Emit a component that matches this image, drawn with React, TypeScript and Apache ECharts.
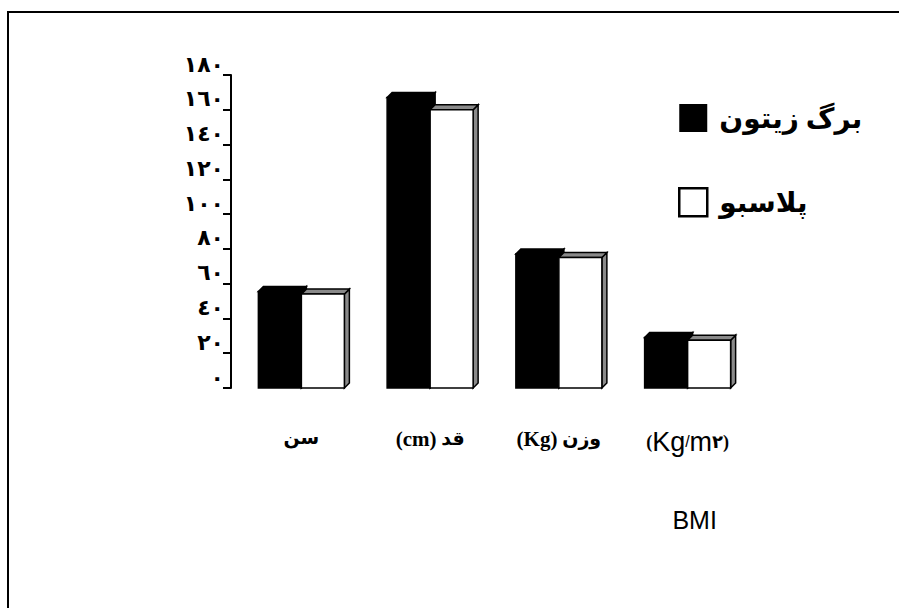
import React, { useEffect, useRef } from "react";
import * as echarts from "echarts";

const categories = ["سن", "قد", "وزن", "BMI"];
const categoryUnits = ["", "(cm)", "(Kg)", ""];
const seriesNames = ["برگ زیتون", "پلاسبو"];
const oliveValues = [55.5, 167, 77, 29];
const placeboValues = [54, 160, 75, 27.5];
const yTickLabels = ["٠", "٢٠", "٤٠", "٦٠", "٨٠", "١٠٠", "١٢٠", "١٤٠", "١٦٠", "١٨٠"];

const SERIF = "'Times New Roman', 'Liberation Serif', 'DejaVu Sans', serif";
const SANS = "Arial, 'Liberation Sans', sans-serif";

function makeRender(side: number, front: string, topC: string, sideC: string) {
  return (params: any, api: any) => {
    const cat = api.value(0);
    const val = api.value(1);
    const base = api.coord([cat, 0]);
    const top = api.coord([cat, val]);
    const band = api.size([1, 0])[0];
    const w = band * 0.334;
    const x = side === 0 ? base[0] - w : base[0];
    const d = 5;
    const yT = top[1];
    const yB = base[1];
    const lw = 1.5;
    return {
      type: "group",
      children: [
        {
          type: "polygon",
          shape: { points: [[x + w, yB], [x + w + d, yB - d], [x + w + d, yT - d], [x + w, yT]] },
          style: { fill: sideC, stroke: "#000", lineWidth: lw },
        },
        {
          type: "polygon",
          shape: { points: [[x, yT], [x + d, yT - d], [x + w + d, yT - d], [x + w, yT]] },
          style: { fill: topC, stroke: "#000", lineWidth: lw },
        },
        {
          type: "rect",
          shape: { x, y: yT, width: w, height: yB - yT },
          style: { fill: front, stroke: "#000", lineWidth: lw },
        },
      ],
    };
  };
}

export default function App() {
  const ref = useRef<HTMLDivElement>(null);
  useEffect(() => {
    if (!ref.current) return;
    const chart = echarts.init(ref.current, null, { renderer: "svg" });
    chart.setOption({
      animation: false,
      backgroundColor: "#fff",
      graphic: [
        {
          type: "rect",
          z: -10,
          shape: { x: 8, y: 12, width: 1000, height: 1000 },
          style: { fill: "none", stroke: "#000", lineWidth: 2 },
          silent: true,
        },
      ],
      grid: { left: 237, top: 75, width: 515, height: 313, containLabel: false },
      legend: {
        orient: "vertical",
        left: 673,
        top: 99,
        itemWidth: 28,
        itemHeight: 28,
        itemGap: 55,
        selectedMode: false,
        textStyle: { fontSize: 28, fontWeight: "bold", fontFamily: SERIF, color: "#000", padding: [0, 0, 0, 7] },
        data: [
          { name: seriesNames[0], icon: "rect", itemStyle: { color: "#000", borderWidth: 0 } },
          { name: seriesNames[1], icon: "rect", itemStyle: { color: "#fff", borderColor: "#000", borderWidth: 2.5 } },
        ],
      },
      xAxis: {
        type: "category",
        data: categories,
        axisLine: { show: false },
        axisTick: { show: false },
        splitLine: { show: false },
        axisLabel: {
          interval: 0,
          margin: 40,
          color: "#000",
          fontSize: 19,
          fontWeight: "bold",
          fontFamily: SERIF,
          formatter: (v: string, i: number) => {
            if (v === "BMI") return "{p|(}{s|Kg}{sl|/}{s|m}{p|٢)}\n{b|BMI}";
            const u = categoryUnits[i];
            return u ? "{u|" + u + "}{a| " + v + "}" : "{a|" + v + "}";
          },
          rich: {
            a: { fontSize: 19, fontWeight: "bold", fontFamily: SERIF, color: "#000" },
            u: { fontSize: 21, fontWeight: "bold", fontFamily: SERIF, color: "#000" },
            p: { fontSize: 18, fontWeight: "bold", fontFamily: SERIF, color: "#000" },
            s: { fontSize: 27, fontWeight: "normal", fontFamily: SANS, color: "#000" },
            sl: { fontSize: 16, fontWeight: "normal", fontFamily: SANS, color: "#000" },
            b: { fontSize: 25, fontWeight: "normal", fontFamily: SANS, color: "#000", padding: [52, 0, 0, 14] },
          },
        },
      },
      yAxis: {
        type: "value",
        min: 0,
        max: 180,
        interval: 20,
        offset: 6,
        axisLine: { show: true, lineStyle: { color: "#000", width: 2 } },
        axisTick: { show: true, length: 8, lineStyle: { color: "#000", width: 2 } },
        splitLine: { show: false },
        axisLabel: {
          margin: 7,
          color: "#000",
          fontSize: 22,
          fontWeight: "bold",
          fontFamily: SERIF,
          verticalAlign: "bottom",
          formatter: (v: number) => yTickLabels[Math.round(v / 20)] ?? "",
        },
      },
      series: [
        {
          name: seriesNames[0],
          type: "custom",
          renderItem: makeRender(0, "#000", "#000", "#000"),
          itemStyle: { color: "#000" },
          encode: { x: 0, y: 1 },
          data: oliveValues.map((v, i) => [i, v]),
          z: 2,
        },
        {
          name: seriesNames[1],
          type: "custom",
          renderItem: makeRender(1, "#fff", "#8a8a8a", "#8a8a8a"),
          itemStyle: { color: "#fff", borderColor: "#000" },
          encode: { x: 0, y: 1 },
          data: placeboValues.map((v, i) => [i, v]),
          z: 3,
        },
      ],
    });
    return () => chart.dispose();
  }, []);
  return (
    <div
      ref={ref}
      style={{ position: "fixed", left: 0, top: 0, width: 899, height: 608, background: "#fff" }}
    />
  );
}
